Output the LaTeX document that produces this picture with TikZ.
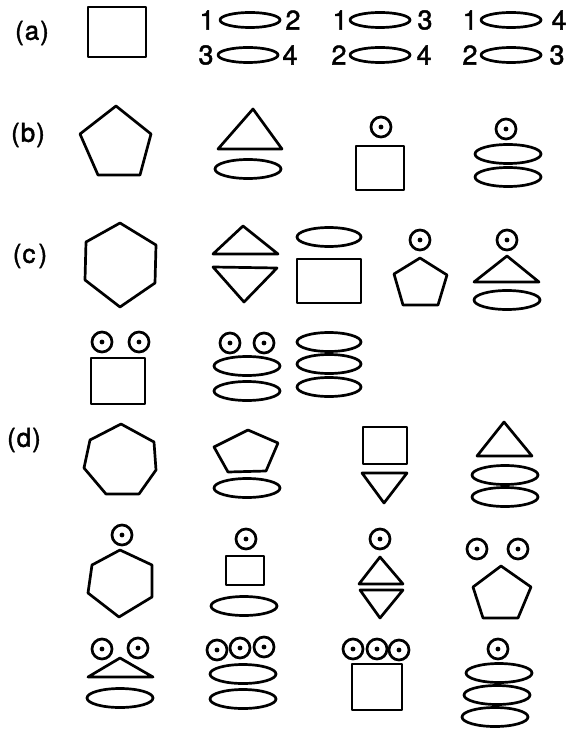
\documentclass[tikz,border=0pt]{standalone}
\usepackage{fontspec}
\setmainfont{TeX Gyre Heros}
\newfontfamily\heavy[FakeBold=1.6]{TeX Gyre Heros}
\newcommand\ovl[3][33]{\draw[shp] (#2,#3) ellipse [x radius=#1pt, y radius=9.5pt];}
\newcommand\pov[2]{\draw[shp] (#1,#2) ellipse [x radius=30pt, y radius=7.5pt];}
\begin{document}
\begin{tikzpicture}[x=1pt,y=-1pt,
  shp/.style={line width=2.7pt, line join=round, line cap=round},
  lab/.style={font=\heavy\fontsize{26}{28}\selectfont, inner sep=0pt},
  num/.style={font=\heavy\fontsize{27}{28}\selectfont, inner sep=0pt},
  eyec/.pic={\draw[line width=2.7pt] (0,0) circle (10pt); \fill (0,0) circle (2.4pt);}]
\useasboundingbox[fill=white] (0,0) rectangle (569,730);

% ---------- (a)
\node[lab] (la) at (32,33) {(\kern1pt a\kern1pt)};
\draw[shp] (88,7) rectangle (146,57);
% pairs line 1
\node[num] (p1a) at (207,20) {1}; \pov{250}{20} \node[num] (p1b) at (293,20) {2};
\node[num] (p2a) at (340,20) {1}; \pov{380}{20} \node[num] (p2b) at (425,20) {3};
\node[num] (p3a) at (470,20) {1}; \pov{511}{20} \node[num] (p3b) at (559,20) {4};
% pairs line 2
\node[num] (q1a) at (206,55) {3}; \pov{248}{55} \node[num] (q1b) at (290,55) {4};
\node[num] (q2a) at (339,55) {2}; \pov{380}{55} \node[num] (q2b) at (424,55) {4};
\node[num] (q3a) at (470,55) {2}; \pov{511}{55} \node[num] (q3b) at (557,55) {3};

% ---------- (b)
\node[lab] (lb) at (28,135) {(\kern1pt b\kern1pt)};
\draw[shp] (116,106) -- (151,134) -- (140,175) -- (98,175) -- (80,134) -- cycle;
\draw[shp] (253,109) -- (282,149) -- (218,149) -- cycle;
\ovl{248}{169}
\pic at (381,127) {eyec};
\draw[shp] (356,146) rectangle (404,190);
\pic at (506,129) {eyec};
\ovl{508}{154} \ovl{508}{177}

% ---------- (c)
\node[lab] (lc) at (30,256) {(\kern1pt c\kern3pt)};
\draw[shp] (120,223) -- (156,245) -- (155,283) -- (120,307) -- (85,280) -- (86,242) -- cycle;
\draw[shp] (243,226) -- (278,254) -- (213,254) -- cycle;
\draw[shp] (213,267) -- (277,268) -- (244,302) -- cycle;
\ovl[32]{329}{237}
\draw[shp] (297,259) rectangle (361,303);
\pic at (420,240) {eyec};
\draw[shp] (420,258) -- (447,275) -- (438,305) -- (403,305) -- (394,274) -- cycle;
\pic at (507,240) {eyec};
\draw[shp] (507,256) -- (539,282) -- (474,282) -- cycle;
\ovl{507}{300}
% row 2
\pic at (102,342) {eyec}; \pic at (139,342) {eyec};
\draw[shp] (91,358) rectangle (145,404);
\pic at (230,343) {eyec}; \pic at (264,343) {eyec};
\ovl{247}{366} \ovl{247}{391}
\ovl[32]{329}{342} \ovl[32]{329}{364} \ovl[32]{329}{387}

% ---------- (d)
\node[lab] (ld) at (24,440) {(\kern1pt d\kern1pt)};
\draw[shp] (121,424) -- (154,442) -- (156,470) -- (139,494) -- (106,494) -- (84,468) -- (90,440) -- cycle;
\draw[shp] (248,430) -- (278,443) -- (266,471) -- (228,472) -- (214,447) -- cycle;
\ovl{247}{488}
\draw[shp] (363,427) rectangle (407,464);
\draw[shp] (362,473) -- (407,473) -- (384,503) -- cycle;
\draw[shp] (504,422) -- (532,456) -- (477,456) -- cycle;
\ovl{505}{475} \ovl{505}{497}
% row 2
\pic at (122,535) {eyec};
\draw[shp] (120,550) -- (152,565) -- (152,597) -- (119,617) -- (88,593) -- (92,565) -- cycle;
\pic at (246,539) {eyec};
\draw[shp] (226,556) rectangle (264,585);
\ovl{244}{606}
\pic at (380,539) {eyec};
\draw[shp] (380,557) -- (403,584) -- (359,584) -- cycle;
\draw[shp] (360,590) -- (403,590) -- (380,618) -- cycle;
\pic at (477,549) {eyec}; \pic at (518,549) {eyec};
\draw[shp] (501,566) -- (531,587) -- (518,618) -- (483,618) -- (473,587) -- cycle;
% row 3
\pic at (102,649) {eyec}; \pic at (138,648) {eyec};
\draw[shp] (120,658) -- (153,677) -- (88,677) -- cycle;
\ovl{120}{698}
\pic at (217,650) {eyec}; \pic at (240,648) {eyec}; \pic at (264,647) {eyec};
\ovl{243}{674} \ovl{243}{699}
\pic at (353,649) {eyec}; \pic at (377,649) {eyec}; \pic at (399,650) {eyec};
\draw[shp] (352,664) rectangle (402,710);
\pic at (498,649) {eyec};
\ovl{499}{673} \ovl{497}{695} \ovl{495}{717}
\end{tikzpicture}
\end{document}
